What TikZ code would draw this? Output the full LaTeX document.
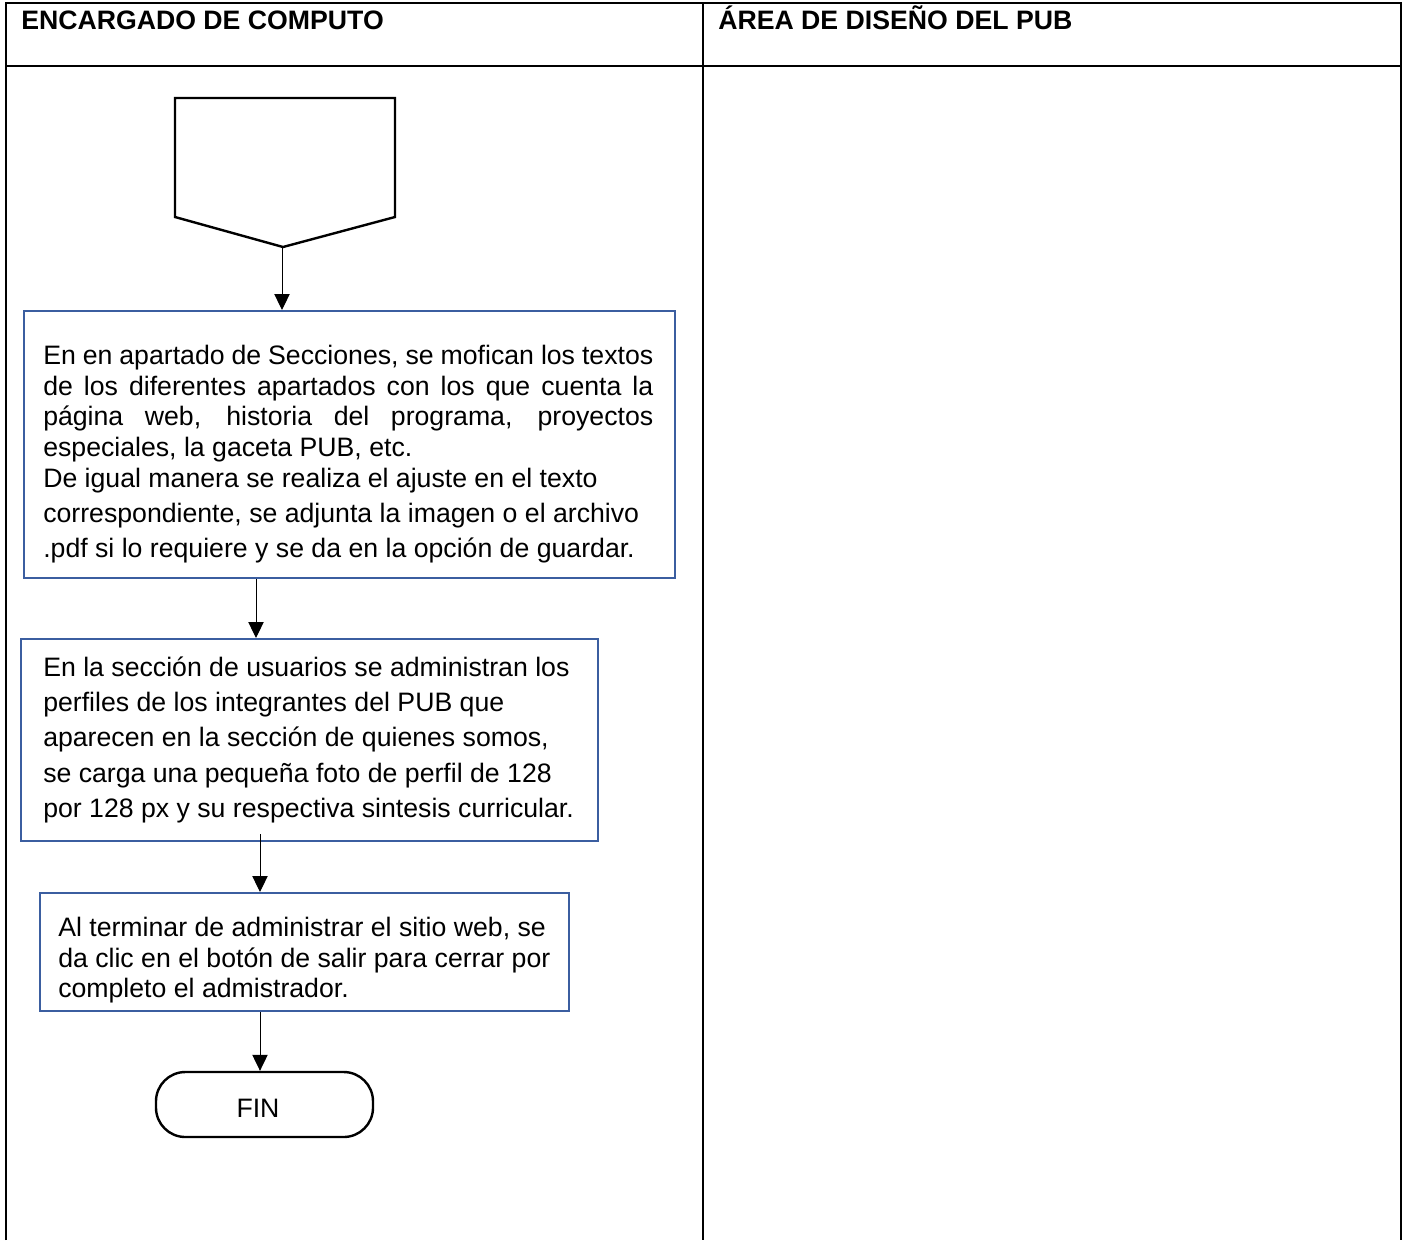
\documentclass[tikz,border=0pt]{standalone}
\usepackage{fontspec}
\setmainfont{Liberation Sans}
\usetikzlibrary{arrows.meta}
\definecolor{boxblue}{RGB}{59,94,160}
\begin{document}
\begin{tikzpicture}[x=0.75pt,y=-0.75pt,
  tbl/.style={line width=1.5pt, draw=black},
  stepbox/.style={draw=boxblue, line width=1.5pt, rectangle, anchor=north west, inner sep=0pt},
  arr/.style={-{Triangle[length=12pt,width=11.5pt]}, line width=0.75pt},
  txt/.style={anchor=base west, inner sep=0pt, font=\fontsize{20}{24}\selectfont},
  hdr/.style={anchor=base west, inner sep=0pt, font=\fontsize{20}{24}\selectfont\bfseries},
  startshape/.style={line width=1.8pt, line join=miter}]
\useasboundingbox (0,0) rectangle (1405,1240);
% table
\draw[tbl] (6,1240) -- (6,3) -- (1401,3) -- (1401,1240);
\draw[tbl] (6,66) -- (1401,66);
\draw[tbl] (703,3) -- (703,1240);
\node[hdr] (h1) at (21,29) {ENCARGADO DE COMPUTO};
\node[hdr] (h2) at (718,29) {ÁREA DE DISEÑO DEL PUB};
% start pentagon
\draw[startshape] (175,98) -- (395,98) -- (395,217) -- (283,247) -- (175,217) -- cycle;
\coordinate (ptip) at (282,247);
% boxes
\node[stepbox, minimum width=651*0.75pt, minimum height=267*0.75pt] (b1) at (23,310) {};
\node[stepbox, minimum width=577*0.75pt, minimum height=202*0.75pt] (b2) at (20,638) {};
\node[stepbox, minimum width=529*0.75pt, minimum height=118*0.75pt] (b3) at (39,892) {};
\node[draw, line width=1.8pt, rounded corners=22pt, minimum width=217*0.75pt, minimum height=65*0.75pt, inner sep=0pt] (fin) at (264.5,1104.5) {};
\node[txt, anchor=base] (fintxt) at (258,1117) {FIN};
% box 1 text
\node[txt] (l11) at (43,364) {\makebox[457.5pt][s]{En en apartado de Secciones, se mofican los textos}};
\node[txt] (l12) at (43,395) {\makebox[457.5pt][s]{de los diferentes apartados con los que cuenta la}};
\node[txt] (l13) at (43,425) {\makebox[457.5pt][s]{página web, historia del programa, proyectos}};
\node[txt] (l14) at (43,456) {especiales, la gaceta PUB, etc.};
\node[txt] (l15) at (43,487) {De igual manera se realiza el ajuste en el texto};
\node[txt] (l16) at (43,522) {correspondiente, se adjunta la imagen o el archivo};
\node[txt] (l17) at (43,557) {.pdf si lo requiere y se da en la opción de guardar.};
% box 2 text
\node[txt] (l21) at (43,676) {En la sección de usuarios se administran los};
\node[txt] (l22) at (43,711) {perfiles de los integrantes del PUB que};
\node[txt] (l23) at (43,746) {aparecen en la sección de quienes somos,};
\node[txt] (l24) at (43,782) {se carga una pequeña foto de perfil de 128};
\node[txt] (l25) at (43,817) {por 128 px y su respectiva sintesis curricular.};
% box 3 text
\node[txt] (l31) at (58,936) {Al terminar de administrar el sitio web, se};
\node[txt] (l32) at (58,967) {da clic en el botón de salir para cerrar por};
\node[txt] (l33) at (58,997) {completo el admistrador.};
% connectors
\coordinate (c2) at (256,0);
\coordinate (c3) at (260,0);
\draw[arr] (ptip) -- (b1.north -| ptip);
\draw[arr] (b1.south -| c2) -- (b2.north -| c2);
\draw[arr] ([yshift=6pt]b2.south -| c3) -- (b3.north -| c3);
\draw[arr] (b3.south -| c3) -- (fin.north -| c3);
\end{tikzpicture}
\end{document}
